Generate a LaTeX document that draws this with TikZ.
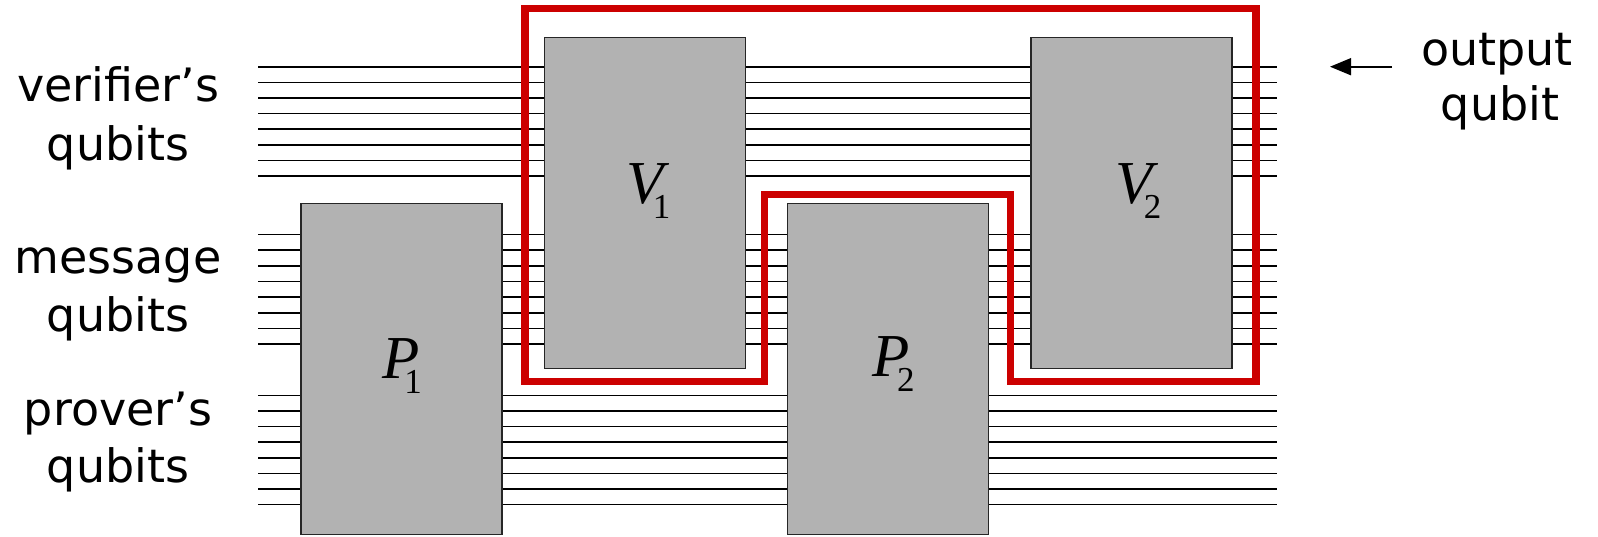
\documentclass[tikz,border=0pt]{standalone}
\usepackage{fontspec}
\setmainfont{DejaVu Sans}
\newfontfamily\tms{Liberation Serif}
\usetikzlibrary{arrows.meta}
\definecolor{boxgray}{RGB}{178,178,178}
\definecolor{framered}{RGB}{204,0,0}
% gate name with a lowered index
\newcommand\gatelabel[3]{{\tms\itshape\fontsize{61}{61}\selectfont #1}\kern#3\raisebox{-15pt}{\tms\fontsize{35}{35}\selectfont #2}}

\begin{document}
\begin{tikzpicture}[x=1pt,y=-1pt,
  wire/.style={line width=1.6pt,black},
  gate/.style={draw=black!85,line width=1.6pt,fill=boxgray,minimum width=201pt,
    minimum height=331pt,inner sep=0pt,outer sep=0pt},
  lbl/.style={font=\fontsize{46}{46}\selectfont,inner sep=0pt,anchor=base},
  glabel/.style={inner sep=0pt,anchor=base},
  redline/.style={draw=framered,line width=7.5pt,line join=miter},
  pointer/.style={line width=1.6pt,-{Triangle[length=21pt,width=17pt]}}]
\useasboundingbox (0,0) rectangle (1598,536);

% qubit wires: verifier, message, prover registers
\foreach \i in {0,...,7}{
  \draw[wire] (258,{66.7+15.6*\i}) -- (1277,{66.7+15.6*\i});
  \draw[wire] (258,{234.3+15.7*\i}) -- (1277,{234.3+15.7*\i});
  \draw[wire] (258,{395.3+15.6*\i}) -- (1277,{395.3+15.6*\i});
}

% gates
\node[gate] (P1) at (401.5,368.8) {};
\node[gate] (V1) at (644.8,202.9) {};
\node[gate] (P2) at (888.1,368.8) {};
\node[gate] (V2) at (1131.4,202.9) {};

\node[glabel] (lP1) at (402,378.3) {\gatelabel{P}{1}{-15pt}};
\node[glabel] (lV1) at (648.5,203.3) {\gatelabel{V}{1}{-11pt}};
\node[glabel] (lP2) at (893.8,376.7) {\gatelabel{P}{2}{-13pt}};
\node[glabel] (lV2) at (1138.4,203.3) {\gatelabel{V}{2}{-9pt}};

% outline around the verifier's part of the circuit
\draw[redline] (525,8.7) -- (1256,8.7) -- (1256,381.5) -- (1010.5,381.5)
  -- (1010.5,194.5) -- (764.5,194.5) -- (764.5,381.5) -- (525,381.5) -- cycle;

% register labels
\node[lbl] (ver1) at (118,101.7) {verifier’s};
\node[lbl] (ver2) at (118,160) {qubits};
\node[lbl] (msg1) at (118,273.3) {message};
\node[lbl] (msg2) at (118,331) {qubits};
\node[lbl] (prv1) at (118,425) {prover’s};
\node[lbl] (prv2) at (118,482) {qubits};

\node[lbl] (out1) at (1497,65) {output};
\node[lbl] (out2) at (1500,120) {qubit};
\coordinate (arrtail) at (1392,66.7);
\coordinate (arrtip) at (1330,66.7);
\draw[pointer] (arrtail) -- (arrtip);
\end{tikzpicture}
\end{document}
